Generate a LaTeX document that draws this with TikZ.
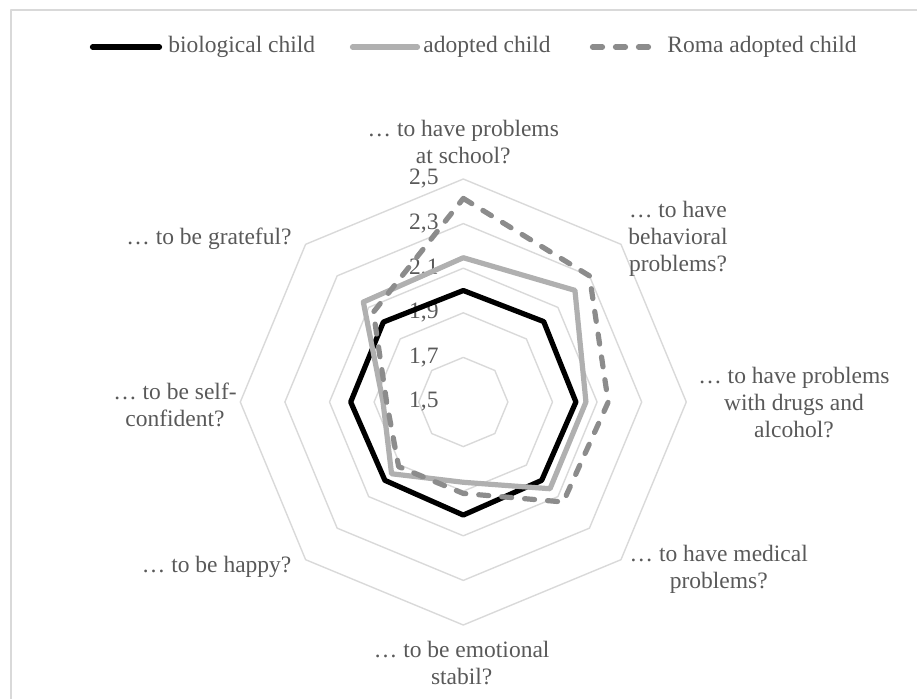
\documentclass[tikz,border=0pt]{standalone}
\usepackage{fontspec}
\setmainfont{Liberation Serif}
\usetikzlibrary{positioning}
\definecolor{txtgray}{HTML}{595959}
\definecolor{gridgray}{HTML}{D9D9D9}
\definecolor{adoptgray}{HTML}{B0B0B0}
\definecolor{romagray}{HTML}{8C8C8C}
\tikzset{
  lbl/.style={text=txtgray, font=\fontsize{11.75}{13.5}\selectfont, inner sep=1pt, align=center},
  ticklbl/.style={lbl, inner sep=0pt, anchor=east},
  gridline/.style={draw=gridgray, line width=0.7pt, line join=round},
  bioline/.style={draw=black, line width=2.6pt, line join=round, line cap=round},
  adoptline/.style={draw=adoptgray, line width=2.6pt, line join=round, line cap=round},
  romaline/.style={draw=romagray, line width=2.6pt, line join=round, line cap=round, dash pattern=on 5pt off 6.5pt},
}
\begin{document}
\begin{tikzpicture}[x=0.5pt, y=0.5pt]
          \useasboundingbox (-463.3,-296) rectangle (453.7,402);
          \draw[gridline] (-452.3,-340) rectangle (480,392);
          \coordinate (bioA) at (-370.8,355);
          \coordinate (bioB) at (-303.8,355);
          \node[lbl, anchor=west] (bioleg) at (-297.3,355) {biological child};
          \draw[bioline] (bioA) -- (bioB);
          \coordinate (adoptA) at (-110.8,355);
          \coordinate (adoptB) at (-45.8,355);
          \node[lbl, anchor=west] (adoptleg) at (-42.3,355) {adopted child};
          \draw[adoptline] (adoptA) -- (adoptB);
          \coordinate (romaA) at (129.2,355);
          \coordinate (romaB) at (188.2,355);
          \node[lbl, anchor=west] (romaleg) at (201.7,355) {Roma adopted child};
          \draw[romaline] (romaA) -- (romaB);
          \begin{scope}[x=111.5pt, y=111.5pt]
          \draw[gridline] (90:0.2) -- (45:0.2) -- (0:0.2) -- (-45:0.2) -- (-90:0.2) -- (-135:0.2) -- (180:0.2) -- (135:0.2) -- cycle;
          \draw[gridline] (90:0.4) -- (45:0.4) -- (0:0.4) -- (-45:0.4) -- (-90:0.4) -- (-135:0.4) -- (180:0.4) -- (135:0.4) -- cycle;
          \draw[gridline] (90:0.6) -- (45:0.6) -- (0:0.6) -- (-45:0.6) -- (-90:0.6) -- (-135:0.6) -- (180:0.6) -- (135:0.6) -- cycle;
          \draw[gridline] (90:0.8) -- (45:0.8) -- (0:0.8) -- (-45:0.8) -- (-90:0.8) -- (-135:0.8) -- (180:0.8) -- (135:0.8) -- cycle;
          \draw[gridline] (90:1) -- (45:1) -- (0:1) -- (-45:1) -- (-90:1) -- (-135:1) -- (180:1) -- (135:1) -- cycle;
          \node[ticklbl] (tick15) at (-0.109,0) {1,5};
          \node[ticklbl] (tick17) at (-0.109,0.2) {1,7};
          \node[ticklbl] (tick19) at (-0.109,0.4) {1,9};
          \node[ticklbl] (tick21) at (-0.109,0.6) {2,1};
          \node[ticklbl] (tick23) at (-0.109,0.8) {2,3};
          \node[ticklbl] (tick25) at (-0.109,1) {2,5};
          \draw[bioline] (90:0.50) -- (45:0.51) -- (0:0.505) -- (-45:0.497) -- (-90:0.507) -- (-135:0.497) -- (180:0.505) -- (135:0.507) -- cycle;
          \draw[adoptline] (90:0.647) -- (45:0.708) -- (0:0.55) -- (-45:0.55) -- (-90:0.36) -- (-135:0.455) -- (180:0.36) -- (135:0.634) -- cycle;
          \draw[romaline] (90:0.913) -- (45:0.80) -- (0:0.65) -- (-45:0.634) -- (-90:0.41) -- (-135:0.41) -- (180:0.344) -- (135:0.57) -- cycle;
          \end{scope}
          \node[lbl] (school) at (0,259.5) {… to have problems\\at school?};
          \node[lbl] (behave) at (214.7,163) {… to have\\behavioral\\problems?};
          \node[lbl] (drugs) at (330.7,-0.5) {… to have problems\\with drugs and\\alcohol?};
          \node[lbl] (medical) at (255.5,-167) {… to have medical\\problems?};
          \node[lbl] (emotion) at (-1.6,-261) {… to be emotional\\stabil?};
          \node[lbl] (happy) at (-246.6,-165) {… to be happy?};
          \node[lbl] (selfconf) at (-288.3,-3) {… to be self-\\confident?};
          \node[lbl] (grateful) at (-254.3,163.7) {… to be grateful?};
        \end{tikzpicture}
\end{document}
